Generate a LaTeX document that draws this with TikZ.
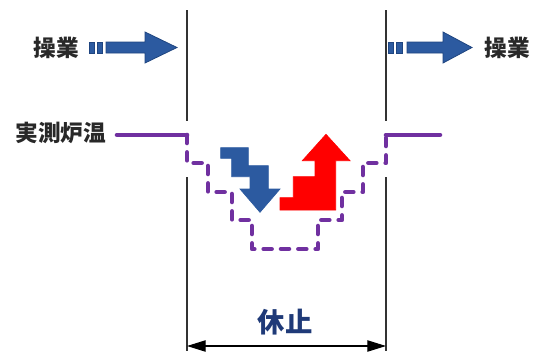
\documentclass[tikz,border=0pt]{standalone}
\usepackage{fontspec}
\newfontfamily\jp{Noto Sans CJK JP}
\usetikzlibrary{arrows.meta}
\definecolor{opblue}{RGB}{44,90,160}
\definecolor{opblueedge}{RGB}{31,69,128}
\definecolor{tempviolet}{RGB}{112,48,160}
\definecolor{restnavy}{RGB}{31,58,120}
\definecolor{labelgray}{RGB}{40,40,40}
\tikzset{
  lbl/.style={font=\jp\bfseries\fontsize{17pt}{20pt}\selectfont, text=labelgray, inner sep=0pt},
  restlbl/.style={font=\jp\bfseries\fontsize{20.5pt}{24pt}\selectfont, text=restnavy, inner sep=0pt},
  opshape/.style={fill=opblue, draw=opblueedge, line width=0.6pt},
  guide/.style={draw=black!80, line width=0.8pt},
  tempsolid/.style={draw=tempviolet, line width=3.4pt, line cap=round, line join=round},
  tempdash/.style={draw=tempviolet, line width=3.4pt, line cap=round, line join=round, dash pattern=on 6pt off 7pt},
  dimline/.style={draw=black, line width=0.8pt, {Triangle[length=14pt,width=8.5pt]}-{Triangle[length=14pt,width=8.5pt]}}
}
\begin{document}
\begin{tikzpicture}[x=0.75pt,y=-0.75pt]
\useasboundingbox (0,0) rectangle (533,351);
% guide lines
\coordinate (LT) at (187,10);
\coordinate (LM) at (187,121);
\coordinate (LB) at (187,177);
\coordinate (LE) at (187,351);
\coordinate (RT) at (386,10);
\coordinate (RM) at (386,121);
\coordinate (RB) at (386,177);
\coordinate (RE) at (386,351);
\draw[guide] (LT) -- (LM);
\draw[guide] (LB) -- (LE);
\draw[guide] (RT) -- (RM);
\draw[guide] (RB) -- (RE);
% labels
\node[lbl] (opL) at (56,47.5) {操業};
\node[lbl] (opR) at (507.5,48) {操業};
\node[lbl] (temp) at (61,132.5) {実測炉温};
\node[restlbl] (rest) at (285,322.5) {休止};
% left operation arrow
\fill[opshape] (89,42) rectangle (94,53);
\fill[opshape] (97,42) rectangle (102,53);
\filldraw[opshape] (106,42) -- (145,42) -- (145,32) -- (177,47.5) -- (145,63) -- (145,53) -- (106,53) -- cycle;
% right operation arrow
\fill[opshape] (388,42) rectangle (393,53);
\fill[opshape] (396,42) rectangle (402,53);
\filldraw[opshape] (407,42) -- (443,42) -- (443,32) -- (472,47.5) -- (443,63) -- (443,53) -- (407,53) -- cycle;
% furnace temperature
\coordinate (TL0) at (117,135);
\coordinate (TL1) at (187,135);
\coordinate (TR1) at (386,135);
\coordinate (TR0) at (440,135);
\draw[tempsolid] (TL0) -- (TL1);
\draw[tempsolid] (TR1) -- (TR0);
\draw[tempdash] (TL1) -- (187,163) -- (208,163) -- (208,192) -- (232,192) -- (232,220) -- (252,220) -- (252,249)
  -- (318,249) -- (318,220) -- (342,220) -- (342,192) -- (363,192) -- (363,163) -- (386,163) -- (TR1);
% cooling arrow
\filldraw[fill=opblue, draw=opblue, line width=0.5pt] (220.7,147.7) -- (248.3,147.7) -- (248.3,165.7) -- (268.3,165.7) -- (268.3,189) -- (280,189)
  -- (260,212.3) -- (240,189) -- (250,189) -- (250,176.7) -- (231.7,176.7) -- (231.7,158.3) -- (220.7,158.3) -- cycle;
% heating arrow
\filldraw[fill=red, draw=red, line width=0.5pt] (326,134.3) -- (350,160.7) -- (335.7,160.7) -- (335.7,210) -- (280,210) -- (280,197.7)
  -- (293.3,197.7) -- (293.3,176.7) -- (315,176.7) -- (315,160.7) -- (302.3,160.7) -- cycle;
% dimension
\coordinate (DL) at (187,346);
\coordinate (DR) at (386,346);
\draw[dimline] (DL) -- (DR);
\end{tikzpicture}
\end{document}
